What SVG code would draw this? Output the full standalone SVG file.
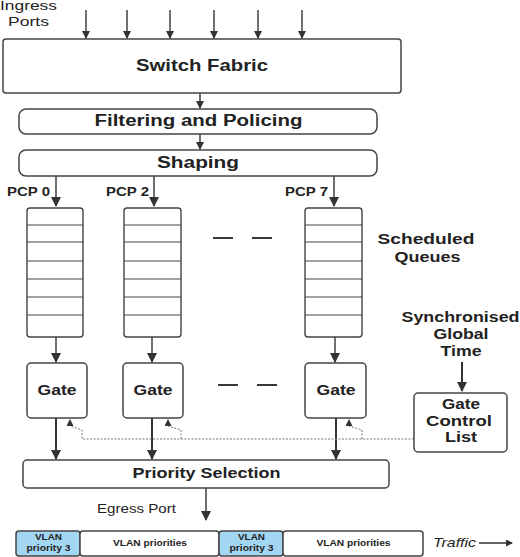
<svg xmlns="http://www.w3.org/2000/svg" width="520" height="557" viewBox="0 0 520 557">
<style>
.box{fill:#fff;stroke:#444;stroke-width:1.5}
.q{fill:#fff;stroke:#444;stroke-width:1.4}
.ql{stroke:#444;stroke-width:1}
.t{font-family:"Liberation Sans",Arial,sans-serif;fill:#222}
.b{font-weight:bold}
.ar{stroke:#333;stroke-width:1.4;fill:none}
.ar2{stroke:#333;stroke-width:2;fill:none}
.dot{stroke:#777;stroke-width:1;stroke-dasharray:2,1.5;fill:none}
.dash{stroke:#222;stroke-width:1.8}
.blue{fill:#a3d6f3;stroke:#444;stroke-width:1.5}
</style>
<defs>
<marker id="ah" markerWidth="8" markerHeight="8" refX="7" refY="4" orient="auto" markerUnits="userSpaceOnUse"><path d="M0,0 L8,4 L0,8 z" fill="#333"/></marker>
<marker id="ahb" markerWidth="10" markerHeight="10" refX="9" refY="5" orient="auto" markerUnits="userSpaceOnUse"><path d="M0,0 L10,5 L0,10 z" fill="#333"/></marker>
<marker id="ahs" markerWidth="7" markerHeight="7" refX="6" refY="3.5" orient="auto" markerUnits="userSpaceOnUse"><path d="M0,0 L7,3.5 L0,7 z" fill="#333"/></marker>
</defs>

<g id="connectors">
<path class="ar" d="M86,10 V38" marker-end="url(#ah)"/>
<path class="ar" d="M127,10 V38" marker-end="url(#ah)"/>
<path class="ar" d="M170,10 V38" marker-end="url(#ah)"/>
<path class="ar" d="M214,10 V38" marker-end="url(#ah)"/>
<path class="ar" d="M258,10 V38" marker-end="url(#ah)"/>
<path class="ar" d="M302,10 V38" marker-end="url(#ah)"/>
<path class="ar" d="M200,93 V108" marker-end="url(#ah)"/>
<path class="ar" d="M200,134 V149" marker-end="url(#ah)"/>
<path class="ar" d="M56,176 V206" marker-end="url(#ahb)"/>
<path class="ar" d="M154,176 V206" marker-end="url(#ahb)"/>
<path class="ar" d="M334,176 V206" marker-end="url(#ahb)"/>
<path class="ar" d="M56,337 V362" marker-end="url(#ahb)"/>
<path class="ar" d="M152,337 V362" marker-end="url(#ahb)"/>
<path class="ar" d="M335,337 V362" marker-end="url(#ahb)"/>
<path class="ar2" d="M56,418 V459" marker-end="url(#ahb)"/>
<path class="ar2" d="M152,418 V459" marker-end="url(#ahb)"/>
<path class="ar2" d="M336,418 V459" marker-end="url(#ahb)"/>
<path class="ar2" d="M462,362 V391" marker-end="url(#ahb)"/>
<path class="ar" d="M206,488 V520" marker-end="url(#ahb)"/>
<path class="ar" d="M479,543 H512" marker-end="url(#ahs)"/>
<path class="dot" d="M414,439 H82 V430 L70,426 V420" marker-end="url(#ahs)"/>
<path class="dot" d="M181,439 V430 L168,426 V420" marker-end="url(#ahs)"/>
<path class="dot" d="M362,439 V430 L349,426 V420" marker-end="url(#ahs)"/>
<line class="dash" x1="213" y1="238" x2="233" y2="238"/>
<line class="dash" x1="252" y1="238" x2="272" y2="238"/>
<line class="dash" x1="218" y1="385" x2="238" y2="385"/>
<line class="dash" x1="257" y1="385" x2="277" y2="385"/>
</g>

<g id="ingress-label">
<text class="t" x="28.5" y="10" font-size="12.5" text-anchor="middle" textLength="57" lengthAdjust="spacingAndGlyphs">Ingress</text>
<text class="t" x="28.5" y="26" font-size="12.5" text-anchor="middle" textLength="41" lengthAdjust="spacingAndGlyphs">Ports</text>
</g>

<g id="switch-fabric">
<rect class="box" x="3" y="39" width="398" height="54" rx="3"/>
<text class="t b" x="202" y="71" font-size="16.5" text-anchor="middle" textLength="132" lengthAdjust="spacingAndGlyphs">Switch Fabric</text>
</g>

<g id="filtering">
<rect class="box" x="19" y="109" width="358" height="25" rx="7"/>
<text class="t b" x="198.5" y="126" font-size="16" text-anchor="middle" textLength="208" lengthAdjust="spacingAndGlyphs">Filtering and Policing</text>
</g>

<g id="shaping">
<rect class="box" x="19" y="150" width="358" height="26" rx="7"/>
<text class="t b" x="198" y="168" font-size="16" text-anchor="middle" textLength="82" lengthAdjust="spacingAndGlyphs">Shaping</text>
</g>

<g id="pcp-labels">
<text class="t b" x="7" y="196" font-size="12.5" textLength="43" lengthAdjust="spacingAndGlyphs">PCP 0</text>
<text class="t b" x="106" y="196" font-size="12.5" textLength="43" lengthAdjust="spacingAndGlyphs">PCP 2</text>
<text class="t b" x="285" y="196" font-size="12.5" textLength="43" lengthAdjust="spacingAndGlyphs">PCP 7</text>
</g>

<g id="queue-0">
<rect class="q" x="27" y="208" width="56" height="129" rx="3"/>
<path class="ql" d="M27,225H83M27,242H83M27,261H83M27,279H83M27,297H83M27,315H83"/>
</g>
<g id="queue-2">
<rect class="q" x="124" y="208" width="57" height="129" rx="3"/>
<path class="ql" d="M124,225H181M124,242H181M124,261H181M124,279H181M124,297H181M124,315H181"/>
</g>
<g id="queue-7">
<rect class="q" x="305" y="208" width="57" height="129" rx="3"/>
<path class="ql" d="M305,225H362M305,242H362M305,261H362M305,279H362M305,297H362M305,315H362"/>
</g>

<g id="scheduled-queues-label">
<text class="t b" x="426" y="244" font-size="15" text-anchor="middle" textLength="97" lengthAdjust="spacingAndGlyphs">Scheduled</text>
<text class="t b" x="427.5" y="262" font-size="15" text-anchor="middle" textLength="66" lengthAdjust="spacingAndGlyphs">Queues</text>
</g>

<g id="sync-time-label">
<text class="t b" x="460.5" y="322" font-size="14.5" text-anchor="middle" textLength="118" lengthAdjust="spacingAndGlyphs">Synchronised</text>
<text class="t b" x="461" y="338.5" font-size="14.5" text-anchor="middle" textLength="55" lengthAdjust="spacingAndGlyphs">Global</text>
<text class="t b" x="461" y="356" font-size="14.5" text-anchor="middle" textLength="41" lengthAdjust="spacingAndGlyphs">Time</text>
</g>

<g id="gate-0">
<rect class="box" x="27" y="363" width="60" height="55" rx="4"/>
<text class="t b" x="57" y="394.5" font-size="14" text-anchor="middle" textLength="39" lengthAdjust="spacingAndGlyphs">Gate</text>
</g>
<g id="gate-2">
<rect class="box" x="123" y="363" width="60" height="55" rx="4"/>
<text class="t b" x="153" y="394.5" font-size="14" text-anchor="middle" textLength="39" lengthAdjust="spacingAndGlyphs">Gate</text>
</g>
<g id="gate-7">
<rect class="box" x="305" y="363" width="61" height="55" rx="4"/>
<text class="t b" x="336" y="394.5" font-size="14" text-anchor="middle" textLength="39" lengthAdjust="spacingAndGlyphs">Gate</text>
</g>

<g id="gate-control-list">
<rect class="box" x="414" y="393" width="93" height="59" rx="4"/>
<text class="t b" x="461" y="408.5" font-size="14" text-anchor="middle" textLength="38" lengthAdjust="spacingAndGlyphs">Gate</text>
<text class="t b" x="459" y="425.5" font-size="14" text-anchor="middle" textLength="66" lengthAdjust="spacingAndGlyphs">Control</text>
<text class="t b" x="461" y="442" font-size="14" text-anchor="middle" textLength="32" lengthAdjust="spacingAndGlyphs">List</text>
</g>

<g id="priority-selection">
<rect class="box" x="23" y="460" width="366" height="28" rx="4"/>
<text class="t b" x="206.5" y="477.5" font-size="15" text-anchor="middle" textLength="148" lengthAdjust="spacingAndGlyphs">Priority Selection</text>
</g>

<g id="egress-label">
<text class="t" x="136.5" y="513" font-size="12.5" text-anchor="middle" textLength="79" lengthAdjust="spacingAndGlyphs">Egress Port</text>
</g>

<g id="traffic-bar">
<rect class="blue" x="16" y="531" width="64" height="25" rx="3"/>
<rect class="box" x="80" y="531" width="139" height="25" rx="3"/>
<rect class="blue" x="219" y="531" width="64" height="25" rx="3"/>
<rect class="box" x="283" y="531" width="140" height="25" rx="3"/>
<text class="t b" x="48.5" y="540" font-size="9" text-anchor="middle" textLength="27" lengthAdjust="spacingAndGlyphs">VLAN</text>
<text class="t b" x="48.5" y="550.5" font-size="9" text-anchor="middle" textLength="44" lengthAdjust="spacingAndGlyphs">priority 3</text>
<text class="t b" x="150" y="545.5" font-size="9" text-anchor="middle" textLength="74" lengthAdjust="spacingAndGlyphs">VLAN priorities</text>
<text class="t b" x="251.5" y="540" font-size="9" text-anchor="middle" textLength="27" lengthAdjust="spacingAndGlyphs">VLAN</text>
<text class="t b" x="251.5" y="550.5" font-size="9" text-anchor="middle" textLength="44" lengthAdjust="spacingAndGlyphs">priority 3</text>
<text class="t b" x="353.5" y="545.5" font-size="9" text-anchor="middle" textLength="74" lengthAdjust="spacingAndGlyphs">VLAN priorities</text>
</g>

<g id="traffic-label">
<text class="t" x="433" y="547" font-size="13" font-style="italic" textLength="43" lengthAdjust="spacingAndGlyphs">Traffic</text>
</g>
</svg>
